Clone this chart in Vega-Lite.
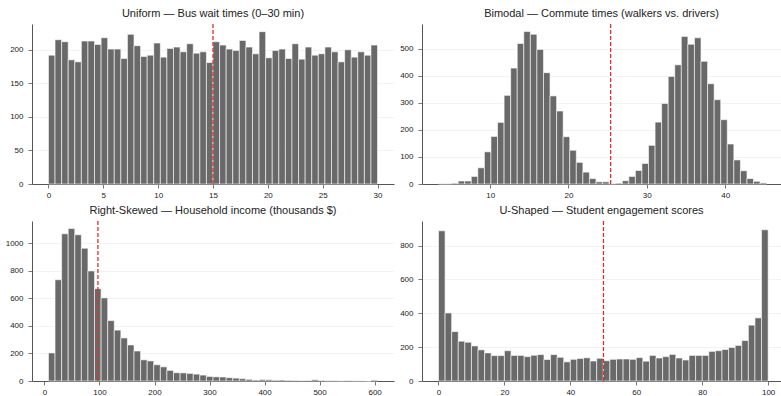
{
 "$schema": "https://vega.github.io/schema/vega-lite/v6.json",
 "padding": {"left": 5, "top": 8, "right": 0, "bottom": 0},
 "background": "white",
 "columns": 2,
 "bounds": "flush",
 "spacing": {"row": 37, "column": 28},
 "config": {
  "font": "Liberation Sans",
  "view": {"stroke": null},
  "title": {"font": "Liberation Sans", "fontSize": 11, "fontWeight": "normal", "color": "#222222", "offset": 4, "anchor": "middle"},
  "axis": {"domain": true, "ticks": true, "labelFont": "Liberation Sans", "labelFontSize": 8, "labelColor": "#222222", "domainColor": "#555555", "domainWidth": 1, "tickColor": "#555555", "tickWidth": 0.8, "tickSize": 4, "labelPadding": 3, "gridColor": "#f0f0f0", "gridWidth": 0.8, "labelOverlap": false, "format": "d"},
  "axisX": {"grid": false},
  "axisY": {"grid": true, "labelPadding": 5}
 },
 "datasets": {
  "u": [
   {"a":0,"b":0.6,"n":192},{"a":0.6,"b":1.2,"n":215},{"a":1.2,"b":1.8,"n":212},{"a":1.8,"b":2.4,"n":185},{"a":2.4,"b":3,"n":182},
   {"a":3,"b":3.6,"n":213},{"a":3.6,"b":4.2,"n":213},{"a":4.2,"b":4.8,"n":208},{"a":4.8,"b":5.4,"n":218},{"a":5.4,"b":6,"n":201},
   {"a":6,"b":6.6,"n":201},{"a":6.6,"b":7.2,"n":187},{"a":7.2,"b":7.8,"n":223},{"a":7.8,"b":8.4,"n":206},{"a":8.4,"b":9,"n":190},
   {"a":9,"b":9.6,"n":192},{"a":9.6,"b":10.2,"n":210},{"a":10.2,"b":10.8,"n":189},{"a":10.8,"b":11.4,"n":202},{"a":11.4,"b":12,"n":204},
   {"a":12,"b":12.6,"n":197},{"a":12.6,"b":13.2,"n":209},{"a":13.2,"b":13.8,"n":195},{"a":13.8,"b":14.4,"n":197},{"a":14.4,"b":15,"n":181},
   {"a":15,"b":15.6,"n":212},{"a":15.6,"b":16.2,"n":207},{"a":16.2,"b":16.8,"n":201},{"a":16.8,"b":17.4,"n":199},{"a":17.4,"b":18,"n":214},
   {"a":18,"b":18.6,"n":204},{"a":18.6,"b":19.2,"n":194},{"a":19.2,"b":19.8,"n":227},{"a":19.8,"b":20.4,"n":188},{"a":20.4,"b":21,"n":199},
   {"a":21,"b":21.6,"n":201},{"a":21.6,"b":22.2,"n":187},{"a":22.2,"b":22.8,"n":209},{"a":22.8,"b":23.4,"n":186},{"a":23.4,"b":24,"n":204},
   {"a":24,"b":24.6,"n":192},{"a":24.6,"b":25.2,"n":194},{"a":25.2,"b":25.8,"n":204},{"a":25.8,"b":26.4,"n":197},{"a":26.4,"b":27,"n":182},
   {"a":27,"b":27.6,"n":200},{"a":27.6,"b":28.2,"n":189},{"a":28.2,"b":28.8,"n":197},{"a":28.8,"b":29.4,"n":192},{"a":29.4,"b":30,"n":207}
  ],
  "bi": [
   {"a":3.400,"b":4.238,"n":1},{"a":4.238,"b":5.076,"n":1},{"a":5.076,"b":5.914,"n":3},{"a":5.914,"b":6.752,"n":11},{"a":6.752,"b":7.590,"n":11},
   {"a":7.590,"b":8.428,"n":28},{"a":8.428,"b":9.266,"n":60},{"a":9.266,"b":10.104,"n":119},{"a":10.104,"b":10.942,"n":176},{"a":10.942,"b":11.780,"n":228},
   {"a":11.780,"b":12.618,"n":328},{"a":12.618,"b":13.456,"n":429},{"a":13.456,"b":14.294,"n":520},{"a":14.294,"b":15.132,"n":564},{"a":15.132,"b":15.970,"n":554},
   {"a":15.970,"b":16.808,"n":498},{"a":16.808,"b":17.646,"n":412},{"a":17.646,"b":18.484,"n":326},{"a":18.484,"b":19.322,"n":270},{"a":19.322,"b":20.160,"n":175},
   {"a":20.160,"b":20.998,"n":125},{"a":20.998,"b":21.836,"n":80},{"a":21.836,"b":22.674,"n":44},{"a":22.674,"b":23.512,"n":20},{"a":23.512,"b":24.350,"n":8},
   {"a":24.350,"b":25.188,"n":8},{"a":25.188,"b":26.026,"n":1},{"a":26.026,"b":26.864,"n":3},{"a":26.864,"b":27.702,"n":12},{"a":27.702,"b":28.540,"n":28},
   {"a":28.540,"b":29.378,"n":50},{"a":29.378,"b":30.216,"n":76},{"a":30.216,"b":31.054,"n":143},{"a":31.054,"b":31.892,"n":229},{"a":31.892,"b":32.730,"n":298},
   {"a":32.730,"b":33.568,"n":398},{"a":33.568,"b":34.406,"n":441},{"a":34.406,"b":35.244,"n":546},{"a":35.244,"b":36.082,"n":517},{"a":36.082,"b":36.920,"n":541},
   {"a":36.920,"b":37.758,"n":454},{"a":37.758,"b":38.596,"n":371},{"a":38.596,"b":39.434,"n":312},{"a":39.434,"b":40.272,"n":238},{"a":40.272,"b":41.110,"n":148},
   {"a":41.110,"b":41.948,"n":89},{"a":41.948,"b":42.786,"n":49},{"a":42.786,"b":43.624,"n":20},{"a":43.624,"b":44.462,"n":10},{"a":44.462,"b":45.300,"n":4}
  ],
  "sk": [
   {"a":7.30,"b":19.26,"n":204},{"a":19.26,"b":31.22,"n":736},{"a":31.22,"b":43.18,"n":1070},{"a":43.18,"b":55.14,"n":1108},{"a":55.14,"b":67.10,"n":1063},
   {"a":67.10,"b":79.06,"n":965},{"a":79.06,"b":91.02,"n":800},{"a":91.02,"b":102.98,"n":671},{"a":102.98,"b":114.94,"n":604},{"a":114.94,"b":126.90,"n":439},
   {"a":126.90,"b":138.86,"n":370},{"a":138.86,"b":150.82,"n":313},{"a":150.82,"b":162.78,"n":262},{"a":162.78,"b":174.74,"n":218},{"a":174.74,"b":186.70,"n":154},
   {"a":186.70,"b":198.66,"n":146},{"a":198.66,"b":210.62,"n":118},{"a":210.62,"b":222.58,"n":103},{"a":222.58,"b":234.54,"n":77},{"a":234.54,"b":246.50,"n":60},
   {"a":246.50,"b":258.46,"n":59},{"a":258.46,"b":270.42,"n":55},{"a":270.42,"b":282.38,"n":50},{"a":282.38,"b":294.34,"n":43},{"a":294.34,"b":306.30,"n":33},
   {"a":306.30,"b":318.26,"n":30},{"a":318.26,"b":330.22,"n":29},{"a":330.22,"b":342.18,"n":24},{"a":342.18,"b":354.14,"n":21},{"a":354.14,"b":366.10,"n":17},
   {"a":366.10,"b":378.06,"n":12},{"a":378.06,"b":390.02,"n":7},{"a":390.02,"b":401.98,"n":10},{"a":401.98,"b":413.94,"n":9},{"a":413.94,"b":425.90,"n":6},
   {"a":425.90,"b":437.86,"n":7},{"a":437.86,"b":449.82,"n":5},{"a":449.82,"b":461.78,"n":4},{"a":461.78,"b":473.74,"n":3},{"a":473.74,"b":485.70,"n":4},
   {"a":485.70,"b":497.66,"n":9},{"a":497.66,"b":509.62,"n":4},{"a":509.62,"b":521.58,"n":2},{"a":521.58,"b":533.54,"n":2},{"a":533.54,"b":545.50,"n":1},
   {"a":545.50,"b":557.46,"n":2},{"a":557.46,"b":569.42,"n":1},{"a":569.42,"b":581.38,"n":1},{"a":581.38,"b":593.34,"n":0},{"a":593.34,"b":605.30,"n":6}
  ],
  "us": [
   {"a":0,"b":2,"n":887},{"a":2,"b":4,"n":402},{"a":4,"b":6,"n":292},{"a":6,"b":8,"n":235},{"a":8,"b":10,"n":229},
   {"a":10,"b":12,"n":207},{"a":12,"b":14,"n":184},{"a":14,"b":16,"n":166},{"a":16,"b":18,"n":150},{"a":18,"b":20,"n":150},
   {"a":20,"b":22,"n":179},{"a":22,"b":24,"n":151},{"a":24,"b":26,"n":151},{"a":26,"b":28,"n":144},{"a":28,"b":30,"n":152},
   {"a":30,"b":32,"n":156},{"a":32,"b":34,"n":127},{"a":34,"b":36,"n":156},{"a":36,"b":38,"n":140},{"a":38,"b":40,"n":113},
   {"a":40,"b":42,"n":128},{"a":42,"b":44,"n":133},{"a":44,"b":46,"n":137},{"a":46,"b":48,"n":118},{"a":48,"b":50,"n":134},
   {"a":50,"b":52,"n":120},{"a":52,"b":54,"n":128},{"a":54,"b":56,"n":130},{"a":56,"b":58,"n":130},{"a":58,"b":60,"n":128},
   {"a":60,"b":62,"n":138},{"a":62,"b":64,"n":117},{"a":64,"b":66,"n":151},{"a":66,"b":68,"n":136},{"a":68,"b":70,"n":144},
   {"a":70,"b":72,"n":157},{"a":72,"b":74,"n":136},{"a":74,"b":76,"n":124},{"a":76,"b":78,"n":151},{"a":78,"b":80,"n":151},
   {"a":80,"b":82,"n":151},{"a":82,"b":84,"n":175},{"a":84,"b":86,"n":179},{"a":86,"b":88,"n":186},{"a":88,"b":90,"n":198},
   {"a":90,"b":92,"n":210},{"a":92,"b":94,"n":239},{"a":94,"b":96,"n":330},{"a":96,"b":98,"n":373},{"a":98,"b":100,"n":893}
  ]
 },
 "concat": [
  {
   "title": "Uniform — Bus wait times (0–30 min)",
   "width": 362, "height": 160,
   "layer": [
    {"data": {"name": "u"},
     "mark": {"type": "bar", "fill": "#696969", "stroke": "#ffffff", "strokeOpacity": 0.85, "strokeWidth": 0.7},
     "encoding": {
      "x": {"field": "a", "type": "quantitative", "scale": {"domain": [-1.5, 31.5], "nice": false, "zero": false}, "axis": {"values": [0,5,10,15,20,25,30], "title": null}},
      "x2": {"field": "b"},
      "y": {"field": "n", "type": "quantitative", "scale": {"domain": [0, 238.4], "nice": false}, "axis": {"values": [0,50,100,150,200], "title": null}},
      "y2": {"datum": 0}
     }},
    {"data": {"values": [{"m": 15}]},
     "mark": {"type": "rule", "color": "#e0302d", "strokeDash": [4, 2], "strokeWidth": 1.3},
     "encoding": {"x": {"field": "m", "type": "quantitative"}}}
   ]
  },
  {
   "title": "Bimodal — Commute times (walkers vs. drivers)",
   "width": 359, "height": 160,
   "layer": [
    {"data": {"name": "bi"},
     "mark": {"type": "bar", "fill": "#696969", "stroke": "#ffffff", "strokeOpacity": 0.85, "strokeWidth": 0.7},
     "encoding": {
      "x": {"field": "a", "type": "quantitative", "scale": {"domain": [1.3, 47.13], "nice": false, "zero": false}, "axis": {"values": [10,20,30,40], "title": null}},
      "x2": {"field": "b"},
      "y": {"field": "n", "type": "quantitative", "scale": {"domain": [0, 592], "nice": false}, "axis": {"values": [0,100,200,300,400,500], "title": null}},
      "y2": {"datum": 0}
     }},
    {"data": {"values": [{"m": 25.38}]},
     "mark": {"type": "rule", "color": "#e0302d", "strokeDash": [4, 2], "strokeWidth": 1.3},
     "encoding": {"x": {"field": "m", "type": "quantitative"}}}
   ]
  },
  {
   "title": "Right-Skewed — Household income (thousands $)",
   "width": 362, "height": 160,
   "layer": [
    {"data": {"name": "sk"},
     "mark": {"type": "bar", "fill": "#696969", "stroke": "#ffffff", "strokeOpacity": 0.85, "strokeWidth": 0.7},
     "encoding": {
      "x": {"field": "a", "type": "quantitative", "scale": {"domain": [-22.6, 635.2], "nice": false, "zero": false}, "axis": {"values": [0,100,200,300,400,500,600], "title": null}},
      "x2": {"field": "b"},
      "y": {"field": "n", "type": "quantitative", "scale": {"domain": [0, 1163], "nice": false}, "axis": {"values": [0,200,400,600,800,1000], "title": null}},
      "y2": {"datum": 0}
     }},
    {"data": {"values": [{"m": 97.2}]},
     "mark": {"type": "rule", "color": "#e0302d", "strokeDash": [4, 2], "strokeWidth": 1.3},
     "encoding": {"x": {"field": "m", "type": "quantitative"}}}
   ]
  },
  {
   "title": "U-Shaped — Student engagement scores",
   "width": 359, "height": 160,
   "layer": [
    {"data": {"name": "us"},
     "mark": {"type": "bar", "fill": "#696969", "stroke": "#ffffff", "strokeOpacity": 0.85, "strokeWidth": 0.7},
     "encoding": {
      "x": {"field": "a", "type": "quantitative", "scale": {"domain": [-5, 103.9], "nice": false, "zero": false}, "axis": {"values": [0,20,40,60,80,100], "title": null}},
      "x2": {"field": "b"},
      "y": {"field": "n", "type": "quantitative", "scale": {"domain": [0, 945], "nice": false}, "axis": {"values": [0,200,400,600,800], "title": null}},
      "y2": {"datum": 0}
     }},
    {"data": {"values": [{"m": 50.05}]},
     "mark": {"type": "rule", "color": "#e0302d", "strokeDash": [4, 2], "strokeWidth": 1.3},
     "encoding": {"x": {"field": "m", "type": "quantitative"}}}
   ]
  }
 ]
}
